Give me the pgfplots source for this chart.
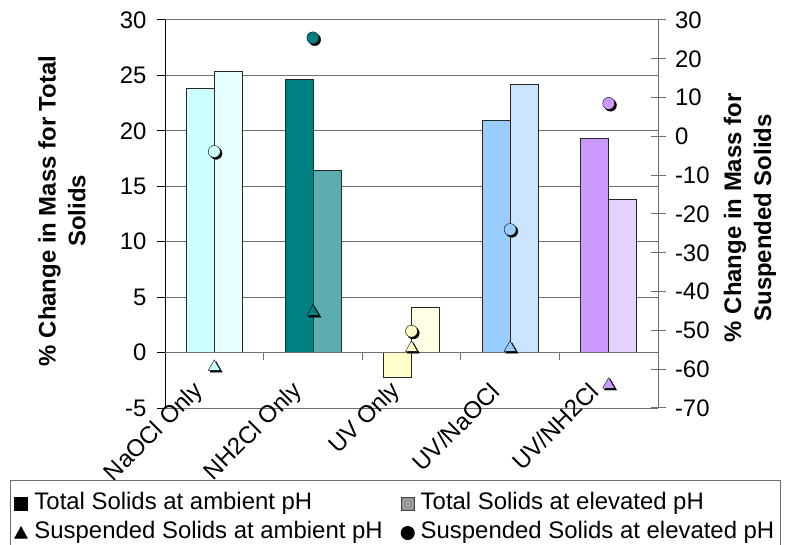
\documentclass[border=0pt]{standalone}
\usepackage{fontspec}
\setmainfont{Liberation Sans}
\usepackage{pgfplots}
\pgfplotsset{compat=1.18}

% fill colours per treatment (solid = ambient pH, tint = elevated pH)
\definecolor{naocl}{HTML}{CCFFFF}
\definecolor{naoclE}{HTML}{E6FFFF}
\definecolor{nhcl}{HTML}{008080}
\definecolor{nhclE}{HTML}{5CADAD}
\definecolor{uvonly}{HTML}{FFFFCC}
\definecolor{uvonlyE}{HTML}{FFFFE6}
\definecolor{uvnaocl}{HTML}{99CCFF}
\definecolor{uvnaoclE}{HTML}{CCE5FF}
\definecolor{uvnhcl}{HTML}{CC99FF}
\definecolor{uvnhclE}{HTML}{E6D2FF}
\definecolor{gridgray}{HTML}{707070}

\newcommand\chartfont{\fontsize{24}{30}\selectfont}

\pgfplotsset{
  base/.style={
    scale only axis, width=493bp, height=388bp,
    at={(165bp,137bp)}, anchor=south west,
    xmin=-0.5, xmax=4.5,
    tick label style={font=\chartfont},
    /pgf/number format/assume math mode=true,
  },
  amb/.style={fill=#1, draw=black!85, line width=0.8bp, bar shift=-14bp},
  elev/.style={fill=#1, draw=black!85, line width=0.8bp, bar shift=14bp},
  tri/.style={only marks, mark=triangle*, mark size=7bp, mark options={fill=#1, draw=none}},
  dot/.style={only marks, mark=*, mark size=6bp, mark options={fill=#1, draw=none}},
  shade/.style={mark options={fill=black, draw=none, xshift=1.8bp, yshift=-1.8bp}},
}

\begin{document}
\begin{tikzpicture}
% ---------- total solids (left axis, bars) ----------
\begin{axis}[base,
  ybar, bar width=28bp,
  ymin=-5, ymax=30, ytick={-5,0,...,30},
  ymajorgrids, grid style={gridgray, line width=1bp},
  axis y line*=left, axis x line*=bottom,
  y axis line style={black, line width=1bp},
  x axis line style={gridgray, line width=1bp},
  tick align=outside, major tick length=8bp,
  ytick style={black, line width=1bp},
  yticklabel style={xshift=-7bp},
  xtick={0,1,2,3,4}, xtick style={draw=none},
  xticklabels={NaOCl Only, NH2Cl Only, UV Only, UV/NaOCl, UV/NH2Cl},
  xticklabel style={xshift=-12bp, yshift=31bp, rotate=45, anchor=east},
  ylabel={\% Change in Mass for Total\\Solids},
  ylabel style={at={(axis description cs:-0.209,0.508)}, anchor=center,
    font=\bfseries\chartfont, align=center},
]
\addplot[amb=naocl, forget plot] coordinates {(0,23.8)};
\addplot[elev=naoclE, forget plot] coordinates {(0,25.4)};
\addplot[amb=nhcl, forget plot] coordinates {(1,24.6)};
\addplot[elev=nhclE, forget plot] coordinates {(1,16.4)};
\addplot[amb=uvonly, forget plot] coordinates {(2,-2.2)};
\addplot[elev=uvonlyE, forget plot] coordinates {(2,4.1)};
\addplot[amb=uvnaocl, forget plot] coordinates {(3,20.9)};
\addplot[elev=uvnaoclE, forget plot] coordinates {(3,24.2)};
\addplot[amb=uvnhcl, forget plot] coordinates {(4,19.3)};
\addplot[elev=uvnhclE, forget plot] coordinates {(4,13.8)};
% category axis at zero with tick marks between groups
\draw[gridgray, line width=1bp] (axis cs:-0.5,0) -- (axis cs:4.5,0);
\pgfplotsinvokeforeach{0.5,1.5,2.5,3.5}{
  \draw[gridgray, line width=1bp] (axis cs:#1,0) -- ([yshift=-7bp]axis cs:#1,0);
}
\end{axis}

% ---------- suspended solids (right axis, markers) ----------
\begin{axis}[base,
  ymin=-70, ymax=30, ytick={-70,-60,...,30},
  axis y line*=right, axis x line=none,
  y axis line style={gridgray, line width=1bp},
  tick align=center, major tick length=15bp,
  ytick style={gridgray, line width=1bp},
  yticklabel style={anchor=west, xshift=6bp},
  ylabel={\% Change in Mass for\\Suspended Solids},
  ylabel style={at={(axis description cs:1.1866,0.49)}, anchor=center,
    font=\bfseries\chartfont, align=center},
  legend columns=2, legend cell align=left,
  legend style={at={(axis description cs:-0.3144,-0.1856)}, anchor=north west,
    draw=gridgray, line width=1bp, font=\chartfont,
    inner xsep=4bp, inner ysep=9bp,
    nodes={inner sep=2bp, text height=18bp, text depth=7bp},
    /tikz/every odd column/.append style={column sep=4bp},
    /tikz/every even column/.append style={column sep=16bp}},
]
% suspended solids at ambient pH
\addplot[tri=black, shade, forget plot] coordinates {(0,-59.4)};
\addplot[tri=naocl, forget plot] coordinates {(0,-59.4)};
\addplot[tri=black, shade, forget plot] coordinates {(1,-45.2)};
\addplot[tri=nhcl, forget plot] coordinates {(1,-45.2)};
\addplot[tri=black, shade, forget plot] coordinates {(2,-54.5)};
\addplot[tri=uvonly, forget plot] coordinates {(2,-54.5)};
\addplot[tri=black, shade, forget plot] coordinates {(3,-54.5)};
\addplot[tri=uvnaocl, forget plot] coordinates {(3,-54.5)};
\addplot[tri=black, shade, forget plot] coordinates {(4,-64)};
\addplot[tri=uvnhcl, forget plot] coordinates {(4,-64)};
% suspended solids at elevated pH
\addplot[dot=black, shade, forget plot] coordinates {(0,-3.9)};
\addplot[dot=naocl, forget plot] coordinates {(0,-3.9)};
\addplot[dot=black, shade, forget plot] coordinates {(1,25.4)};
\addplot[dot=nhcl, forget plot] coordinates {(1,25.4)};
\addplot[dot=black, shade, forget plot] coordinates {(2,-50.2)};
\addplot[dot=uvonly, forget plot] coordinates {(2,-50.2)};
\addplot[dot=black, shade, forget plot] coordinates {(3,-24)};
\addplot[dot=uvnaocl, forget plot] coordinates {(3,-24)};
\addplot[dot=black, shade, forget plot] coordinates {(4,8.5)};
\addplot[dot=uvnhcl, forget plot] coordinates {(4,8.5)};

\addlegendimage{legend image code/.code={\fill[black] (0bp,-6.5bp) rectangle (13bp,6.5bp);}}
\addlegendentry{Total Solids at ambient pH}
\addlegendimage{legend image code/.code={\filldraw[fill=black!40, draw=black!75, line width=0.8bp] (0bp,-6.5bp) rectangle (13bp,6.5bp);}}
\addlegendentry{Total Solids at elevated pH}
\addlegendimage{legend image code/.code={\fill[black] (0bp,-5bp) -- (12bp,-5bp) -- (6bp,6bp) -- cycle;}}
\addlegendentry{Suspended Solids at ambient pH}
\addlegendimage{legend image code/.code={\fill[black] (6.5bp,0bp) circle (6.5bp);}}
\addlegendentry{Suspended Solids at elevated pH}
\end{axis}
\pgfresetboundingbox
\useasboundingbox (0,0) rectangle (793bp,545bp);
\end{tikzpicture}
\end{document}
